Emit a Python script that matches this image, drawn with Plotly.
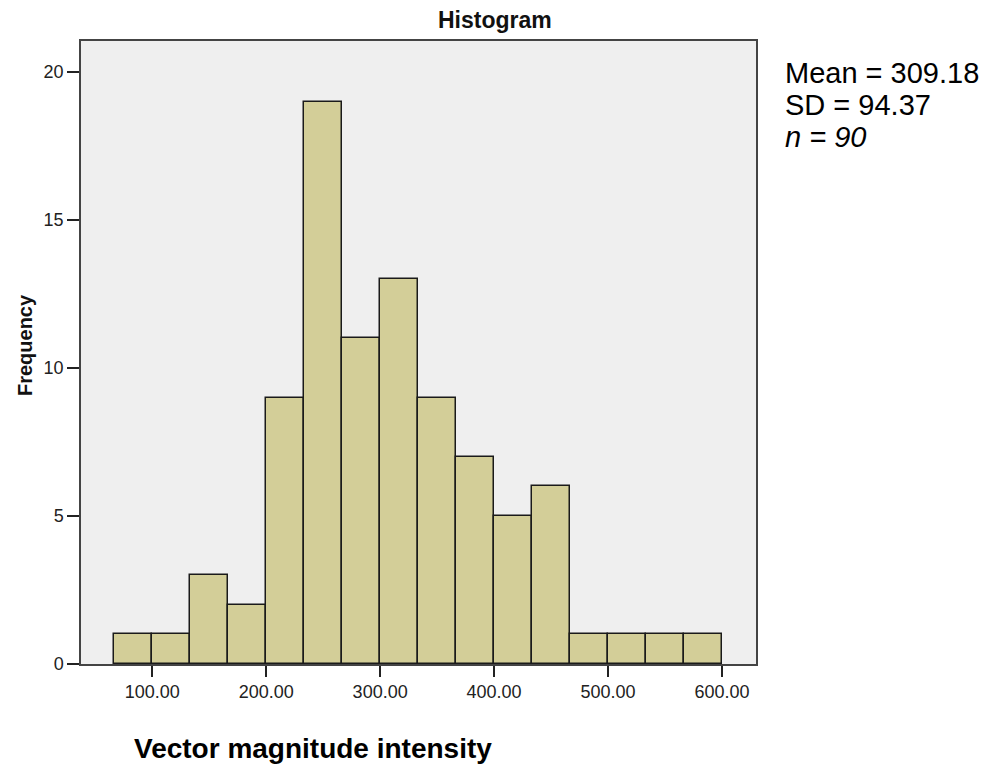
import numpy as np
import plotly.graph_objects as go

# histogram of vector magnitude intensity (SPSS style)
counts = [1, 1, 3, 2, 9, 19, 11, 13, 9, 7, 5, 6, 1, 1, 1, 1]
bin_start = 66.667
bin_width = 33.333
x_ticks = [100, 200, 300, 400, 500, 600]
y_ticks = [0, 5, 10, 15, 20]
stats_lines = ["Mean = 309.18", "SD = 94.37", "<i>n = 90</i>"]

centers = bin_start + bin_width * (np.arange(len(counts)) + 0.5)

FONT = "Liberation Sans, Arial, sans-serif"

# page body adds 8px margin, so figure is a little smaller than the window
W, H = 990, 763
L, R, T, B = 73, 242, 33, 107
pw, ph = W - L - R, H - T - B

fig = go.Figure()
fig.add_trace(go.Bar(
    x=centers, y=counts, width=bin_width,
    marker=dict(color="#d3ce98", line=dict(color="#1a1a1a", width=1.5)),
    showlegend=False, hoverinfo="x+y",
))

fig.update_xaxes(
    range=[37.5, 629.8], tickvals=x_ticks, tickformat=".2f",
    ticks="outside", ticklen=11, tickwidth=1.5, tickcolor="#222",
    showline=True, linecolor="#444", linewidth=1.5, mirror=True,
    showgrid=False, zeroline=False,
    tickfont=dict(family=FONT, size=18, color="#222"),
)
fig.update_yaxes(
    range=[0, 21.05], tickvals=y_ticks,
    ticks="outside", ticklen=12, tickwidth=1.5, tickcolor="#222",
    showline=True, linecolor="#444", linewidth=1.5, mirror=True,
    showgrid=False, zeroline=False,
    tickfont=dict(family=FONT, size=18, color="#222"),
)

annots = [
    dict(text="<b>Histogram</b>", xref="paper", yref="paper", x=(487 - L) / pw, y=1,
         yanchor="bottom", yshift=6, showarrow=False,
         font=dict(family=FONT, size=23, color="#111")),
    dict(text="<b>Vector magnitude intensity</b>", xref="paper", yref="paper",
         x=(305 - L) / pw, y=0, yshift=-67, yanchor="top", showarrow=False,
         font=dict(family=FONT, size=28, color="#000")),
    dict(text="<b>Frequency</b>", xref="paper", yref="paper", textangle=-90,
         x=(17 - L) / pw, y=0.512, xanchor="center", yanchor="middle", showarrow=False,
         font=dict(family=FONT, size=20, color="#111")),
]
for i, line in enumerate(stats_lines):
    annots.append(dict(text=line, xref="paper", yref="paper",
                       x=1, xshift=27, y=1, yshift=-14 - 32 * i,
                       xanchor="left", yanchor="top", align="left",
                       showarrow=False, font=dict(family=FONT, size=29, color="#000")))

fig.update_layout(
    width=W, height=H,
    margin=dict(l=L, r=R, t=T, b=B),
    plot_bgcolor="#efefef", paper_bgcolor="white",
    bargap=0,
    annotations=annots,
)

fig.write_html("out.html")
